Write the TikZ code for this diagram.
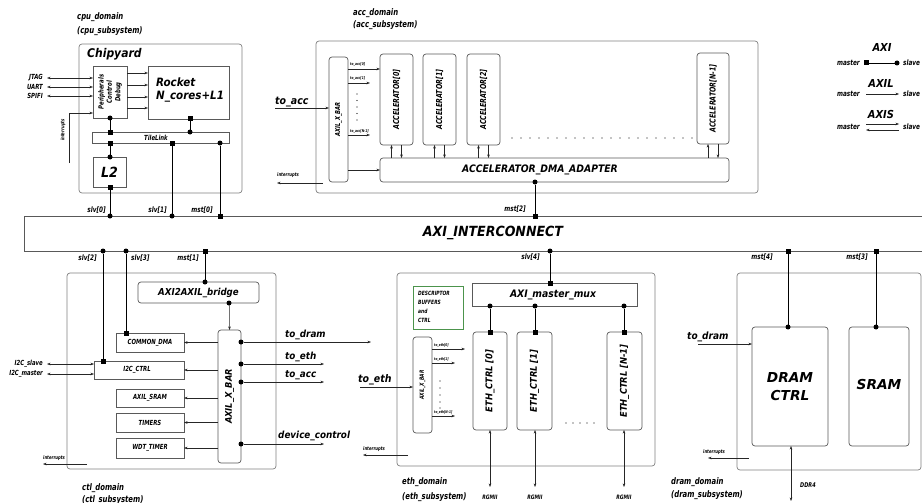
\documentclass[tikz,border=0pt]{standalone}
\usepackage{fontspec}
\setmainfont{DejaVu Sans Condensed}
\newfontfamily\nf{DejaVu Sans Condensed}[FakeStretch=0.85]
\newfontfamily\wideff{DejaVu Sans}
\usetikzlibrary{arrows.meta}
\newcommand\fsz[1]{\fontsize{#1}{1.2\dimexpr#1pt\relax}\selectfont}
\newcommand\mkbox[6]{\node[#1, minimum width=#4pt, minimum height=#5pt, anchor=north west] (#6) at (#2,#3) {};}
\begin{document}
\begin{tikzpicture}[x=1pt,y=-1pt,
  dom/.style={draw=black!50, rounded corners=3pt, line width=0.7pt, inner sep=0pt, outer sep=0pt},
  blk/.style={draw=black!65, line width=0.7pt, inner sep=0pt, outer sep=0pt},
  rblk/.style={blk, rounded corners=3pt},
  gblk/.style={draw=green!40!black!70, line width=0.7pt, inner sep=0pt, outer sep=0pt},
  wire/.style={line width=0.8pt, draw=black},
  arr/.style={line width=0.5pt, draw=black!85, -{Stealth[length=3.5pt,width=2.6pt]}},
  darr/.style={line width=0.5pt, draw=black!85, {Stealth[length=3.5pt,width=2.6pt]}-{Stealth[length=3.5pt,width=2.6pt]}},
  slv/.style={circle, fill=black, inner sep=0pt, minimum size=5pt, outer sep=0pt},
  mst/.style={rectangle, fill=black, inner sep=0pt, minimum size=5pt, outer sep=0pt},
  txt/.style={inner sep=0pt, font=\bfseries\itshape\fsz{#1}},
  ntxt/.style={inner sep=0pt, font=\nf\bfseries\itshape\fsz{#1}},
  wtxt/.style={inner sep=0pt, font=\wideff\bfseries\itshape\fsz{#1}},
]
\useasboundingbox (0,0) rectangle (922,503);
\clip (0,0) rectangle (922,503);

% ================= CPU DOMAIN =================
\node[ntxt=9, anchor=west] (cpulab1) at (77,17) {cpu\_domain};
\node[ntxt=9, anchor=west] (cpulab2) at (77,31) {(cpu\_subsystem)};
\mkbox{dom}{79}{44}{163}{149}{chip}
\node[txt=12, anchor=west] (chipt) at (87,54) {Chipyard};
\mkbox{blk}{93}{66}{34}{52}{periph}
\node[ntxt=7, rotate=90, align=center] (periph-t) at (periph.center) {Peripherals\\Control\\Debug};
\mkbox{blk}{148}{66}{81}{53}{rocket}
\node[txt=11.5, align=left, anchor=west] (rocket-t) at (156,90) {Rocket\\N\_cores+L1};
\foreach \yy/\nm in {73/a,85/b,97/c,108/d}{
  \coordinate (pr\nm) at (0,\yy);
  \draw[arr] (periph.east |- pr\nm) -- (rocket.west |- pr\nm);
}
\foreach \yy/\lab/\nm in {78/JTAG/j,87/UART/u,96/SPIFI/s}{
  \coordinate (io\nm) at (47,\yy);
  \node[ntxt=7, anchor=east] (iol\nm) at (43,\yy) {\lab};
  \draw[darr] (io\nm) -- (periph.west |- io\nm);
}
\coordinate (cintA) at (69,163);
\coordinate (cintB) at (69,113);
\draw[arr] (cintA) -- (cintB) -- (periph.west |- cintB);
\node[ntxt=5, rotate=90] (cintt) at (63,130) {interrupts};

\mkbox{blk}{92}{132}{137}{11}{tl}
\node[ntxt=7, font=\nf\bfseries\itshape\fsz{7}] (tlt) at (156,137.5) {TileLink};
\mkbox{blk}{93}{157}{33}{30}{l2}
\node[txt=14] (l2t) at (l2.center) {L2};

\node[slv] (pc) at (110,118) {};
\node[mst] (ts1) at (110,132) {};
\node[mst] (rs) at (190,119) {};
\node[slv] (tc1) at (190,132) {};
\node[mst] (ts2) at (110,143) {};
\node[slv] (l2c) at (110,157) {};
\node[mst] (ts3) at (172,143) {};
\node[slv] (tc2) at (220,143) {};
\node[mst] (l2s) at (110,187) {};
\draw[wire] (pc) -- (ts1);
\draw[wire] (rs) -- (tc1);
\draw[wire] (ts2) -- (l2c);

% ================= AXI INTERCONNECT =================
\mkbox{blk}{24}{216}{910}{35}{ic}
\node[txt=14] (ict) at (493,233) {AXI\_INTERCONNECT};
\node[slv] (slv0) at (110,216) {};
\node[slv] (slv1) at (172,216) {};
\node[mst] (mst0) at (220,216) {};
\node[mst] (mst2) at (535,216) {};
\node[slv] (slv2) at (103,251) {};
\node[slv] (slv3) at (126,251) {};
\node[mst] (mst1) at (205,251) {};
\node[slv] (slv4) at (550,251) {};
\node[mst] (mst4) at (788,251) {};
\node[mst] (mst3) at (876,251) {};
\node[ntxt=7.5, anchor=east] (slv0t) at (106,210) {slv[0]};
\node[ntxt=7.5, anchor=east] (slv1t) at (167,210) {slv[1]};
\node[ntxt=7.5, anchor=east] (mst0t) at (213,210) {mst[0]};
\node[ntxt=7.5, anchor=east] (mst2t) at (526,209) {mst[2]};
\node[ntxt=7.5, anchor=east] (slv2t) at (97,258) {slv[2]};
\node[ntxt=7.5, anchor=west] (slv3t) at (131,258) {slv[3]};
\node[ntxt=7.5, anchor=east] (mst1t) at (199,258) {mst[1]};
\node[ntxt=7.5, anchor=east] (slv4t) at (540,257) {slv[4]};
\node[ntxt=7.5, anchor=east] (mst4t) at (773,257) {mst[4]};
\node[ntxt=7.5, anchor=east] (mst3t) at (868,257) {mst[3]};
\draw[wire] (l2s) -- (slv0);
\draw[wire] (ts3) -- (slv1);
\draw[wire] (tc2) -- (mst0);

% ================= ACC DOMAIN =================
\node[ntxt=9, anchor=west] (acclab1) at (353,13) {acc\_domain};
\node[ntxt=9, anchor=west] (acclab2) at (353,25) {(acc\_subsystem)};
\mkbox{dom}{316}{41}{442}{152}{accd}
\mkbox{rblk}{329}{57}{19}{125}{axb}
\node[ntxt=6.8, rotate=90] (axbt) at (axb.center) {AXIL\_X\_BAR};
\mkbox{rblk}{380}{54}{33}{91}{acc0}
\mkbox{rblk}{423}{54}{33}{91}{acc1}
\mkbox{rblk}{467}{54}{33}{91}{acc2}
\mkbox{rblk}{697}{53}{32}{91}{accn}
\node[ntxt=8.2, rotate=90] (acc0t) at (acc0.center) {ACCELERATOR[0]};
\node[ntxt=8.2, rotate=90] (acc1t) at (acc1.center) {ACCELERATOR[1]};
\node[ntxt=8.2, rotate=90] (acc2t) at (acc2.center) {ACCELERATOR[2]};
\node[ntxt=8.2, rotate=90] (accnt) at (accn.center) {ACCELERATOR[N-1]};
\mkbox{rblk}{380}{158}{349}{24}{dma}
\node[txt=10.3] (dmat) at (540,170) {ACCELERATOR\_DMA\_ADAPTER};
\foreach \bb in {acc0,acc1,acc2,accn}{
  \draw[arr] ([xshift=-5pt]\bb.south |- dma.north) -- ([xshift=-5pt]\bb.south);
  \draw[arr] ([xshift=5pt]\bb.south) -- ([xshift=5pt]\bb.south |- dma.north);
}
\coordinate (toaccin) at (275,108);
\draw[arr] (toaccin) -- (axb.west |- toaccin);
\node[txt=10.5, anchor=base west] (toacct) at (275,104) {to\_acc};
\coordinate (ta0) at (0,69);
\coordinate (ta1) at (370,83);
\coordinate (tan) at (370,135);
\draw[arr] (axb.east |- ta0) -- (acc0.west |- ta0);
\draw[arr] (axb.east |- ta1) -- (ta1);
\draw[arr] (axb.east |- tan) -- (tan);
\node[ntxt=3.8, anchor=base west] (ta0t) at (350,66) {to\_acc[0]};
\node[ntxt=3.8, anchor=base west] (ta1t) at (350,80) {to\_acc[1]};
\node[ntxt=3.8, anchor=base west] (tant) at (350,132) {to\_acc[N-1]};
\foreach \yy in {94,100.5,107,113.5,120} \fill (357,\yy) circle (0.7pt);
\coordinate (tdma) at (0,170);
\draw[arr] (axb.east |- tdma) -- (dma.west |- tdma);
\coordinate (aintA) at (323,183);
\coordinate (aintB) at (277,183);
\draw[arr] (aintA) -- (aintB);
\node[ntxt=5, anchor=base west] (aintt) at (277,176) {interrupts};
\draw[line width=1.1pt, dash pattern=on 0pt off 9pt, line cap=round] (512,138) -- (695,138);
\node[slv] (dmac) at (535,182) {};
\draw[wire] (dmac) -- (mst2);

% ================= LEGEND =================
\node[txt=11] (lgaxi) at (882,47) {AXI};
\node[ntxt=7.5, anchor=east] (lgm1) at (860,63) {master};
\node[ntxt=7.5, anchor=west] (lgs1) at (903,63) {slave};
\node[mst] (lgsq) at (866,63) {};
\node[slv] (lgci) at (897,63) {};
\draw[wire] (lgsq) -- (lgci);
\node[txt=11] (lgaxil) at (881,83) {AXIL};
\node[ntxt=7.5, anchor=east] (lgm2) at (860,94) {master};
\node[ntxt=7.5, anchor=west] (lgs2) at (903,94) {slave};
\coordinate (lga1) at (866,94);
\coordinate (lga2) at (899,94);
\draw[arr] (lga1) -- (lga2);
\node[txt=11] (lgaxis) at (881,114) {AXIS};
\node[ntxt=7.5, anchor=east] (lgm3) at (860,127) {master};
\node[ntxt=7.5, anchor=west] (lgs3) at (903,127) {slave};
\coordinate (lgb1) at (866,124);
\coordinate (lgb2) at (899,124);
\coordinate (lgb3) at (866,130);
\coordinate (lgb4) at (899,130);
\draw[arr] (lgb1) -- (lgb2);
\draw[arr] (lgb4) -- (lgb3);

% ================= CTL DOMAIN =================
\mkbox{dom}{67}{273}{209}{196}{ctld}
\node[ntxt=9, anchor=west] (ctllab1) at (82,488) {ctl\_domain};
\node[ntxt=9, anchor=west] (ctllab2) at (82,500) {(ctl\_subsystem)};
\mkbox{rblk}{138}{282}{121}{21}{br}
\node[txt=9.6] (brt-t) at (br.center) {AXI2AXIL\_bridge};
\mkbox{rblk}{218}{330}{23}{133}{cxb}
\node[txt=9.2, rotate=90] (cxbt) at (cxb.center) {AXIL\_X\_BAR};
\mkbox{blk}{116}{333}{68}{19}{cdmab}
\mkbox{blk}{94}{361}{90}{18}{i2cb}
\mkbox{blk}{116}{389}{68}{18}{sramb}
\mkbox{blk}{116}{413}{68}{19}{timb}
\mkbox{blk}{116}{438}{68}{20}{wdtb}
\node[ntxt=7] (cdmat) at (cdmab.center) {COMMON\_DMA};
\node[ntxt=7] (i2ct) at ([xshift=-2pt]i2cb.center) {I2C\_CTRL};
\node[ntxt=7] (sramt) at (sramb.center) {AXIL\_SRAM};
\node[ntxt=7] (timt) at (timb.center) {TIMERS};
\node[ntxt=7] (wdtt) at (wdtb.center) {WDT\_TIMER};
\foreach \bb in {cdmab,i2cb,sramb,timb,wdtb}{
  \draw[arr] (cxb.west |- \bb.east) -- (\bb.east);
}
\node[slv] (brtc) at (205,282) {};
\node[slv] (brbc) at (229,303) {};
\draw[arr] (brbc) -- (cxb.north |- brbc.south) -- (cxb.north);
\node[mst] (cdmas) at (126,333) {};
\node[mst] (i2cs) at (103,361) {};
\draw[wire] (slv3) -- (cdmas);
\draw[wire] (slv2) -- (i2cs);
\draw[wire] (mst1) -- (brtc);
\foreach \yy/\lab/\nm in {364/I2C\_slave/s,374/I2C\_master/m}{
  \coordinate (i2\nm) at (47,\yy);
  \node[ntxt=7, anchor=east] (i2l\nm) at (43,\yy) {\lab};
  \draw[darr] (i2\nm) -- (i2cb.west |- i2\nm);
}
\coordinate (cintC) at (87,464);
\coordinate (cintD) at (43,464);
\draw[arr] (cintC) -- (cintD);
\node[ntxt=5, anchor=base west] (cintt2) at (43,459) {interrupts};
% outgoing AXIL
\node[slv] (xo1) at (241,342) {};
\node[slv] (xo2) at (241,364) {};
\node[slv] (xo3) at (241,382) {};
\node[slv] (xo4) at (241,444) {};
\coordinate (xe1) at (371,342);
\coordinate (xe2) at (324,364);
\coordinate (xe3) at (324,382);
\coordinate (xe4) at (324,444);
\draw[arr] (xo1) -- (xe1);
\draw[arr] (xo2) -- (xe2);
\draw[arr] (xo3) -- (xe3);
\draw[arr] (xo4) -- (xe4);
\node[txt=9.8, anchor=base west] (xl1) at (285,337) {to\_dram};
\node[txt=9.8, anchor=base west] (xl2) at (285,359) {to\_eth};
\node[txt=9.8, anchor=base west] (xl3) at (285,377) {to\_acc};
\node[txt=9.8, anchor=base west] (xl4) at (278,438) {device\_control};

% ================= ETH DOMAIN =================
\mkbox{dom}{397}{273}{258}{193}{ethd}
\node[ntxt=9, anchor=west] (ethlab1) at (402,482) {eth\_domain};
\node[ntxt=9, anchor=west] (ethlab2) at (402,497) {(eth\_subsystem)};
\mkbox{blk}{472}{283}{165}{23}{mux}
\node[txt=10.3] (muxt) at (553,295) {AXI\_master\_mux};
\mkbox{gblk}{413}{286}{50}{43}{desc}
\node[inner sep=0pt, font=\nf\bfseries\itshape\fontsize{5.8}{9}\selectfont, align=left, anchor=north west] (desct) at (418,290.5) {DESCRIPTOR\\BUFFERS\\and\\CTRL};
\mkbox{rblk}{413}{337}{19}{96}{exb}
\node[ntxt=5.8, rotate=90] (exbt) at (exb.center) {AXIL\_X\_BAR};
\mkbox{rblk}{473}{332}{34}{98}{e0}
\mkbox{rblk}{517}{332}{35}{98}{e1}
\mkbox{rblk}{607}{332}{35}{98}{en}
\node[txt=9.3, rotate=90] (e0t) at (e0.center) {ETH\_CTRL [0]};
\node[txt=9.3, rotate=90] (e1t) at (e1.center) {ETH\_CTRL [1]};
\node[txt=9.3, rotate=90] (ent) at (en.center) {ETH\_CTRL [N-1]};
\node[mst] (muxs) at (550,283) {};
\draw[wire] (slv4) -- (muxs);
\foreach \xx/\bb in {490/e0,535/e1,624/en}{
  \node[slv] (mc\bb) at (\xx,306) {};
  \node[mst] (ms\bb) at (\xx,332) {};
  \draw[wire] (mc\bb) -- (ms\bb);
  \coordinate (rg\bb) at (\xx,487);
  \draw[darr] (\bb.south -| rg\bb) -- (rg\bb);
  \node[ntxt=6, inner sep=0pt] (rgt\bb) at (\xx,497) {RGMII};
}
\foreach \xx in {566,573,580,587,594} \fill (\xx,423) circle (0.7pt);
\coordinate (te0) at (465,349);
\coordinate (te1) at (455,363);
\coordinate (ten) at (455,416);
\draw[arr] (exb.east |- te0) -- (te0);
\draw[arr] (exb.east |- te1) -- (te1);
\draw[arr] (exb.east |- ten) -- (ten);
\node[ntxt=3.7, anchor=base west] (te0t) at (434,346) {to\_eth[0]};
\node[ntxt=3.7, anchor=base west] (te1t) at (434,360) {to\_eth[1]};
\node[ntxt=3.7, anchor=base west] (tent) at (434,413) {to\_eth[N-1]};
\foreach \yy in {381,388,395,402,408} \fill (440,\yy) circle (0.7pt);
\coordinate (toethin) at (360,387);
\draw[arr] (toethin) -- (exb.west |- toethin);
\node[txt=10.5, anchor=base west] (toetht) at (358,382) {to\_eth};
\coordinate (eintA) at (408,455);
\coordinate (eintB) at (363,455);
\draw[arr] (eintA) -- (eintB);
\node[ntxt=5, anchor=base west] (eintt) at (363,450) {interrupts};

% ================= DRAM DOMAIN =================
\mkbox{dom}{737}{273}{184}{197}{dramd}
\node[ntxt=9, anchor=west] (drlab1) at (671,482) {dram\_domain};
\node[ntxt=9, anchor=west] (drlab2) at (671,495) {(dram\_subsystem)};
\mkbox{rblk}{752}{327}{76}{119}{dram}
\mkbox{rblk}{849}{327}{60}{119}{sram}
\node[inner sep=0pt, align=center, font=\wideff\bfseries\itshape\fontsize{13.7}{18}\selectfont] (dramt) at (790,387) {DRAM\\CTRL};
\node[wtxt=13.7] (sramt2) at (879,385) {SRAM};
\node[slv] (dramc) at (788,327) {};
\node[slv] (sramc) at (876,327) {};
\draw[wire] (mst4) -- (dramc);
\draw[wire] (mst3) -- (sramc);
\coordinate (todrin) at (698,344);
\draw[arr] (todrin) -- (dram.west |- todrin);
\node[txt=10, anchor=base west] (todrt) at (687,339) {to\_dram};
\coordinate (dintA) at (749,458);
\coordinate (dintB) at (708,458);
\draw[arr] (dintA) -- (dintB);
\node[ntxt=5, anchor=base west] (dintt) at (703,453) {interrupts};
\coordinate (ddr) at (791,501);
\draw[darr] (dram.south -| ddr) -- (ddr);
\node[ntxt=6.5, anchor=west] (ddrt) at (800,485) {DDR4};
\end{tikzpicture}
\end{document}
